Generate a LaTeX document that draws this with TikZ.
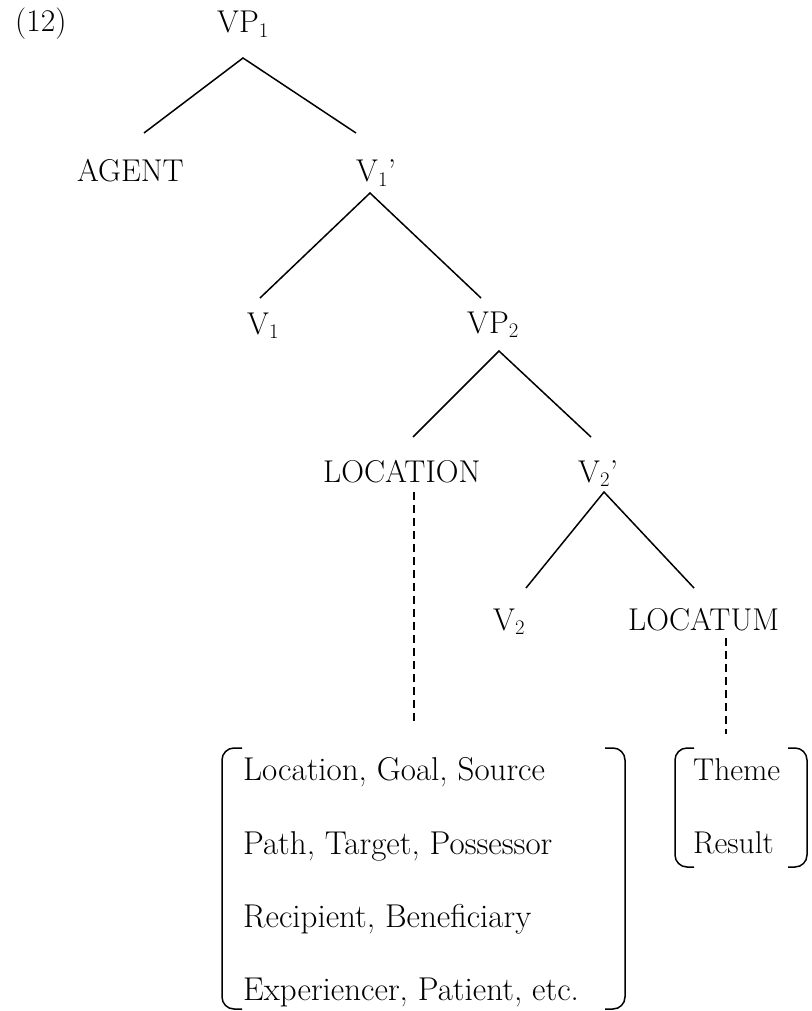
\documentclass[tikz,border=0pt]{standalone}
\begin{document}
\begin{tikzpicture}[x=1pt,y=-1pt,
  lbl/.style={font=\fontsize{31.5}{36}\selectfont, inner sep=0pt, anchor=base west},
  roles/.style={lbl, font=\fontsize{33}{38}\selectfont},
  branch/.style={line width=1.5pt},
  dotted link/.style={line width=1.5pt, dash pattern=on 8pt off 5pt},
  brk/.style={line width=1.5pt, rounded corners=12pt}]
\useasboundingbox (0,0) rectangle (811,1011);
% labels
\node[lbl] (ex) at (15,32) {(12)};
\node[lbl] (vp1) at (217,33) {VP$_1$};
\node[lbl] (agent) at (77,182) {AGENT};
\node[lbl] (v1bar) at (356,182) {V$_1$’};
\node[lbl] (v1) at (247,334) {V$_1$};
\node[lbl] (vp2) at (467,333) {VP$_2$};
\node[lbl] (location) at (323,482) {LOCATION};
\node[lbl] (v2bar) at (578,482) {V$_2$’};
\node[lbl] (v2) at (493,630) {V$_2$};
\node[lbl] (locatum) at (628,630) {LOCATUM};
\node[roles] (l1) at (243,780) {Location, Goal, Source};
\node[roles] (l2) at (243,854) {Path, Target, Possessor};
\node[roles] (l3) at (243,927) {Recipient, Beneficiary};
\node[roles] (l4) at (243,1000) {Experiencer, Patient, etc.};
\node[lbl] (theme) at (693,780) {Theme};
\node[lbl] (result) at (693,853) {Result};
% branch points
\coordinate (vp1b) at (243,58);
\coordinate (agentt) at (144,133);
\coordinate (v1bart) at (356,133);
\coordinate (v1barb) at (370,193);
\coordinate (v1t) at (260,298);
\coordinate (vp2t) at (481,298);
\coordinate (vp2b) at (499,351);
\coordinate (loct) at (413,437);
\coordinate (v2bart) at (591,437);
\coordinate (v2barb) at (604,492);
\coordinate (v2t) at (526,588);
\coordinate (locatumt) at (694,588);
\coordinate (locb) at (414,492);
\coordinate (locend) at (414,724);
\coordinate (locatumb) at (726,638);
\coordinate (locatumend) at (726,734);
% branches
\draw[branch] (agentt) -- (vp1b) -- (v1bart);
\draw[branch] (v1t) -- (v1barb) -- (vp2t);
\draw[branch] (loct) -- (vp2b) -- (v2bart);
\draw[branch] (v2t) -- (v2barb) -- (locatumt);
\draw[dotted link] (locb) -- (locend);
\draw[dotted link] (locatumb) -- (locatumend);
% brackets
\draw[brk] (242,748) -- (222,748) -- (222,1009) -- (242,1009);
\draw[brk] (605,748) -- (625,748) -- (625,1009) -- (605,1009);
\draw[brk] (694,748) -- (675,748) -- (675,867) -- (694,867);
\draw[brk] (788,748) -- (807,748) -- (807,867) -- (788,867);
\end{tikzpicture}
\end{document}
